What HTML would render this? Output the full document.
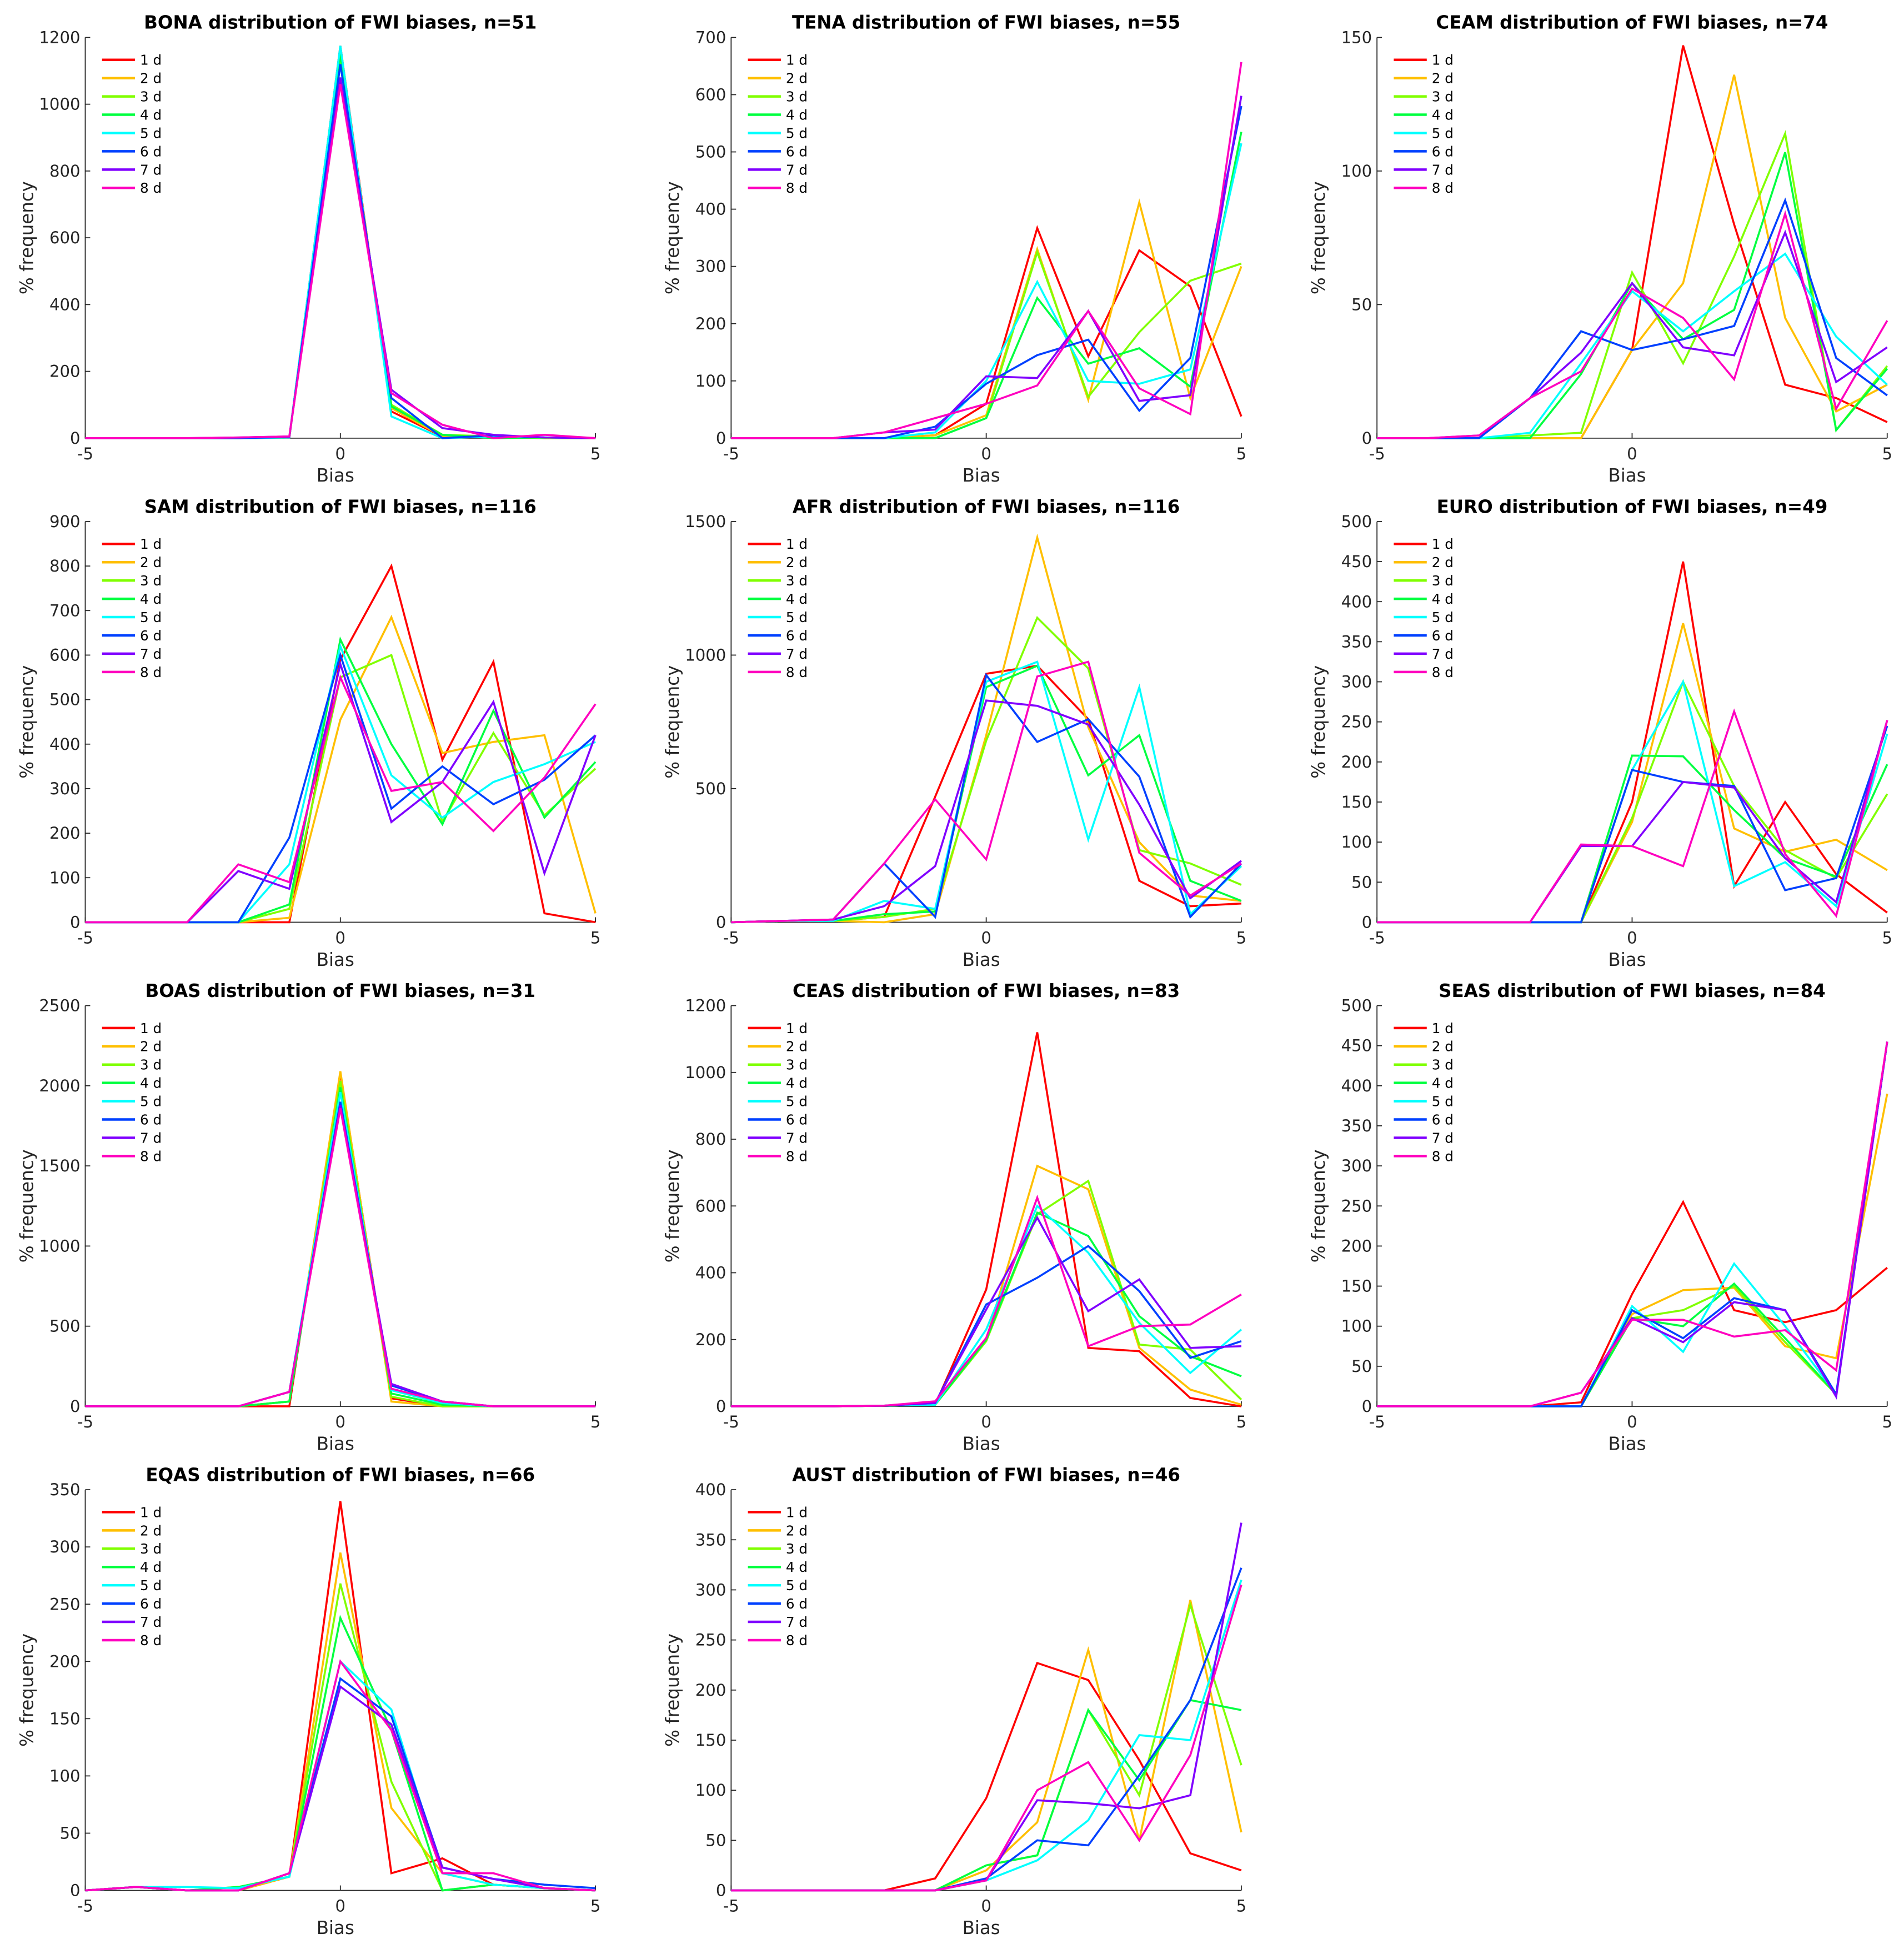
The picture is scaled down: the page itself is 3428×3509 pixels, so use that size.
<!DOCTYPE html>
<html><head><meta charset="utf-8">
<style>html,body{margin:0;padding:0;background:#fff}svg{display:block}</style>
</head><body>
<svg id="fig" xmlns="http://www.w3.org/2000/svg" width="3428" height="3509" viewBox="0 0 1530 1566" font-family="'DejaVu Sans','Liberation Sans',sans-serif"></svg>
<script>
const xCats = [-5,-4,-3,-2,-1,0,1,2,3,4,5];
const seriesLabels = ["1 d","2 d","3 d","4 d","5 d","6 d","7 d","8 d"];
const seriesColors = ["#ff0000","#ffbf00","#80ff00","#00ff40","#00ffff","#0040ff","#8000ff","#ff00bf"];
const xTicks = [-5,0,5];
const regionNames = ["BONA","TENA","CEAM","SAM","AFR","EURO","BOAS","CEAS","SEAS","EQAS","AUST"];
const regionN = [51,55,74,116,116,49,31,83,84,66,46];
const yTicksBONA=[0,200,400,600,800,1000,1200];
const yTicksTENA=[0,100,200,300,400,500,600,700];
const yTicksCEAM=[0,50,100,150];
const yTicksSAM=[0,100,200,300,400,500,600,700,800,900];
const yTicksAFR=[0,500,1000,1500];
const yTicksEURO=[0,50,100,150,200,250,300,350,400,450,500];
const yTicksBOAS=[0,500,1000,1500,2000,2500];
const yTicksCEAS=[0,200,400,600,800,1000,1200];
const yTicksSEAS=[0,50,100,150,200,250,300,350,400,450,500];
const yTicksEQAS=[0,50,100,150,200,250,300,350];
const yTicksAUST=[0,50,100,150,200,250,300,350,400];
// values per series (1d..8d), at xCats
const BONA=[[0,0,0,0,2,1175,80,5,5,0,0],[0,0,0,0,2,1160,90,5,5,0,0],[0,0,0,0,2,1140,100,10,5,0,0],[0,0,0,0,2,1150,95,10,0,2,0],[0,0,0,0,2,1175,65,0,5,2,0],[0,0,0,0,3,1120,120,0,8,2,0],[0,0,0,2,5,1080,145,30,10,2,0],[0,0,0,2,5,1060,135,40,0,10,0]];
const TENA=[[0,0,0,0,5,60,367,143,328,265,38],[0,0,0,0,5,40,330,67,412,70,300],[0,0,0,0,0,35,325,72,185,275,305],[0,0,0,0,0,35,245,130,157,90,535],[0,0,0,0,10,100,273,100,95,120,515],[0,0,0,0,20,95,145,172,48,140,580],[0,0,0,10,15,108,105,222,65,75,598],[0,0,0,10,35,60,92,222,87,42,657]];
const CEAM=[[0,0,0,0,0,33,147,80,20,15,6],[0,0,0,0,0,33,58,136,45,10,20],[0,0,0,1,2,62,28,68,114,3,27],[0,0,0,0,24,58,37,48,107,3,26],[0,0,0,2,28,55,40,55,69,38,20],[0,0,0,15,40,33,37,42,89,30,16],[0,0,1,15,32,58,34,31,77,21,34],[0,0,1,15,25,56,45,22,84,11,44]];
const SAM=[[0,0,0,0,0,590,800,365,585,20,0],[0,0,0,0,10,455,685,380,405,420,20],[0,0,0,0,30,550,600,225,425,240,345],[0,0,0,0,40,635,400,220,475,235,360],[0,0,0,0,130,620,330,235,315,355,405],[0,0,0,0,190,600,255,350,265,320,420],[0,0,0,115,75,580,225,315,495,110,420],[0,0,0,130,90,550,295,315,205,325,490]];
const AFR=[[0,5,5,20,470,930,960,760,155,60,70],[0,5,5,0,30,700,1440,730,300,100,80],[0,5,5,20,50,680,1140,950,270,220,140],[0,5,5,30,40,880,960,550,700,155,80],[0,5,5,80,50,900,975,310,880,30,210],[0,5,10,220,20,925,675,760,545,20,220],[0,5,10,60,210,830,810,740,440,90,230],[0,5,10,220,460,235,920,975,260,100,220]];
const EURO=[[0,0,0,0,0,150,450,45,150,60,12],[0,0,0,0,0,125,373,117,88,103,65],[0,0,0,0,0,130,300,170,90,55,160],[0,0,0,0,0,208,207,140,80,57,197],[0,0,0,0,0,190,300,45,75,20,235],[0,0,0,0,0,190,175,170,40,55,245],[0,0,0,0,95,95,175,168,80,25,252],[0,0,0,0,97,95,70,263,85,8,252]];
const BOAS=[[0,0,0,0,0,2080,50,0,0,0,0],[0,0,0,0,30,2090,30,0,0,0,0],[0,0,0,0,30,2030,60,0,0,0,0],[0,0,0,0,30,1990,80,10,0,0,0],[0,0,0,0,90,1960,100,20,0,0,0],[0,0,0,0,90,1900,130,30,0,0,0],[0,0,0,0,90,1880,140,30,0,0,0],[0,0,0,0,90,1860,110,30,0,0,0]];
const CEAS=[[0,0,0,2,5,350,1120,175,165,25,0],[0,0,0,2,5,200,720,650,175,50,5],[0,0,0,2,5,195,575,675,185,170,20],[0,0,0,2,5,200,580,510,270,150,90],[0,0,0,2,5,230,600,460,250,100,230],[0,0,0,2,10,305,385,480,345,145,195],[0,0,0,2,10,290,565,285,380,175,180],[0,0,0,2,15,205,625,180,240,245,335]];
const SEAS=[[0,0,0,0,5,140,255,120,105,120,173],[0,0,0,0,0,115,145,148,75,60,390],[0,0,0,0,0,110,120,150,80,15,455],[0,0,0,0,0,110,100,153,85,15,455],[0,0,0,0,0,125,68,178,100,15,455],[0,0,0,0,0,120,85,135,120,15,455],[0,0,0,0,17,110,80,130,120,12,455],[0,0,0,0,17,108,108,87,95,45,455]];
const EQAS=[[0,3,0,0,12,340,15,28,5,2,0],[0,3,0,0,12,295,72,15,5,2,0],[0,3,0,3,12,268,95,0,5,2,0],[0,3,0,3,12,238,140,0,5,2,0],[0,3,3,2,12,200,158,15,5,2,0],[0,3,0,0,15,185,152,20,10,5,2],[0,3,0,0,15,178,145,20,10,2,0],[0,3,0,0,15,200,140,15,15,2,0]];
const AUST=[[0,0,0,0,12,92,227,210,130,37,20],[0,0,0,0,0,20,68,240,50,290,58],[0,0,0,0,0,25,35,180,95,285,125],[0,0,0,0,0,25,35,180,110,190,180],[0,0,0,0,0,10,30,70,155,150,310],[0,0,0,0,0,12,50,45,115,190,322],[0,0,0,0,0,10,90,87,82,95,367],[0,0,0,0,0,10,100,128,50,135,305]];
const allData=[BONA,TENA,CEAM,SAM,AFR,EURO,BOAS,CEAS,SEAS,EQAS,AUST];
const allTicks=[yTicksBONA,yTicksTENA,yTicksCEAM,yTicksSAM,yTicksAFR,yTicksEURO,yTicksBOAS,yTicksCEAS,yTicksSEAS,yTicksEQAS,yTicksAUST];

const NS="http://www.w3.org/2000/svg";
const svg=document.getElementById('fig');
const colL=[68.5,587.5,1106.5], W=410;
const rowT=[30,419,808,1197], H=322;
function mk(tag,attrs,parent,text){const e=document.createElementNS(NS,tag);for(const k in attrs)e.setAttribute(k,attrs[k]);if(text!==undefined)e.textContent=text;parent.appendChild(e);return e;}

allData.forEach((data,p)=>{
  const L=colL[p%3], T=rowT[Math.floor(p/3)], B=T+H, R=L+W;
  const ticks=allTicks[p], ymax=ticks[ticks.length-1];
  const xs=v=>L+(v+5)/10*W, ys=v=>B-v/ymax*H;
  const g=mk('g',{},svg);
  
  
  const t=mk('text',{x:L+W/2,y:T-7,'text-anchor':'middle','font-size':14.5,'font-weight':'bold',fill:'#000'},g,regionNames[p]+' distribution of FWI biases, n='+regionN[p]);
  
  
  const ax=mk('path',{d:`M${L},${T}V${B}H${R}`,fill:'none',stroke:'#262626','stroke-width':0.8},g);
  
  
  ticks.forEach(v=>{
    const y=ys(v);
    mk('line',{x1:L,x2:L+4,y1:y,y2:y,stroke:'#262626','stroke-width':0.8},g);
    const tl=mk('text',{x:L-4,y:y+4.5,'text-anchor':'end','font-size':13,fill:'#262626'},g,String(v));
    
    
  });
  xTicks.forEach(v=>{
    const x=xs(v);
    mk('line',{x1:x,x2:x,y1:B,y2:B-4,stroke:'#262626','stroke-width':0.8},g);
    const tl=mk('text',{x:x,y:B+17,'text-anchor':'middle','font-size':13,fill:'#262626'},g,String(v));
    
    
  });
  const xl=mk('text',{x:L+W/2-4,y:B+35,'text-anchor':'middle','font-size':14.5,fill:'#262626'},g,'Bias');
  
  
  const yx=L-42, yy=T+H/2;
  const yl=mk('text',{x:yx,y:yy,'text-anchor':'middle','font-size':14.5,fill:'#262626',transform:`rotate(-90 ${yx} ${yy})`},g,'% frequency');
  
  
  data.forEach((ser,s)=>{
    const d=ser.map((v,i)=>(i?'L':'M')+xs(xCats[i]).toFixed(2)+','+ys(v).toFixed(2)).join('');
    const pl=mk('path',{d:d,fill:'none',stroke:seriesColors[s],'stroke-width':1.6,'stroke-linejoin':'miter'},g);
    
    
  });
  seriesLabels.forEach((lab,s)=>{
    const y=T+18+s*14.7;
    const le=mk('g',{},g);
    
    
    mk('line',{x1:L+13.5,x2:L+40,y1:y,y2:y,stroke:seriesColors[s],'stroke-width':2},le);
    mk('text',{x:L+44,y:y+4,'font-size':11,fill:'#000'},le,lab);
  });
});
</script>
</body></html>
